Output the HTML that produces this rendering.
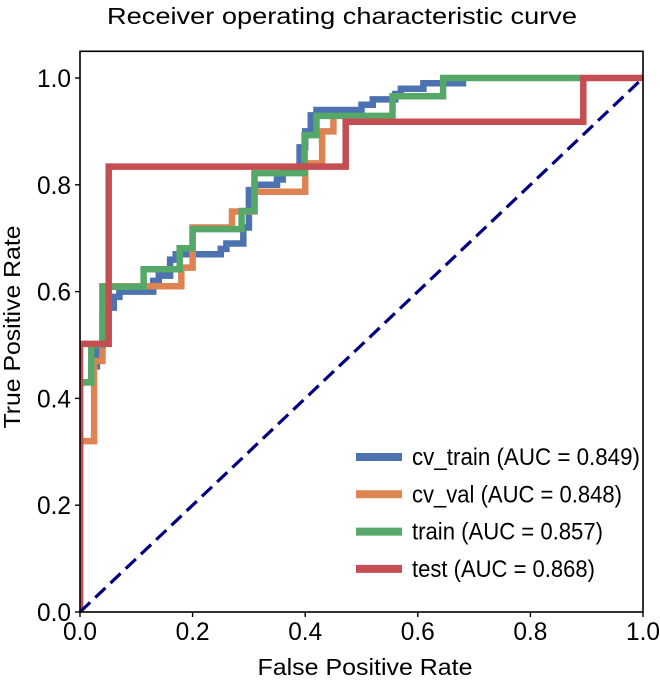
<!DOCTYPE html>
<html><head><meta charset="utf-8"><style>
html,body{margin:0;padding:0;background:#fff;}
svg text{font-family:"Liberation Sans",Arial,sans-serif;fill:#000;}
</style></head><body>
<svg id="chart" width="660" height="678" viewBox="0 0 660 678" xmlns="http://www.w3.org/2000/svg">
<text x="342" y="24" font-size="23" text-anchor="middle" textLength="470" lengthAdjust="spacingAndGlyphs">Receiver operating characteristic curve</text>
<g id="plot"></g>
<text x="365" y="675" font-size="23" text-anchor="middle" textLength="215" lengthAdjust="spacingAndGlyphs">False Positive Rate</text>
<text transform="translate(20,327) rotate(-90)" font-size="23" text-anchor="middle" textLength="203" lengthAdjust="spacingAndGlyphs">True Positive Rate</text>
</svg>
<script>
const tickValues = [0, 0.2, 0.4, 0.6, 0.8, 1.0];
const tickLabels = ["0.0", "0.2", "0.4", "0.6", "0.8", "1.0"];
const seriesNames = ["cv_train", "cv_val", "train", "test"];
const seriesLabels = ["cv_train (AUC = 0.849)", "cv_val (AUC = 0.848)", "train (AUC = 0.857)", "test (AUC = 0.868)"];
const seriesColors = ["#4c72b0", "#dd8452", "#55a868", "#c44e52"];
const cvTrainFpr = [0,0,0.02,0.02,0.03,0.03,0.04,0.04,0.05,0.05,0.06,0.06,0.07,0.07,0.13,0.13,0.14,0.14,0.16,0.16,0.17,0.17,0.19,0.19,0.25,0.25,0.26,0.26,0.29,0.29,0.30,0.30,0.31,0.31,0.35,0.35,0.36,0.36,0.39,0.39,0.40,0.40,0.41,0.41,0.42,0.42,0.44,0.44,0.50,0.50,0.52,0.52,0.56,0.56,0.57,0.57,0.61,0.61,0.62,0.62,0.686];
const cvTrainTpr = [0,0.43,0.43,0.46,0.46,0.50,0.50,0.55,0.55,0.57,0.57,0.59,0.59,0.60,0.60,0.62,0.62,0.63,0.63,0.66,0.66,0.67,0.67,0.67,0.67,0.68,0.68,0.69,0.69,0.72,0.72,0.79,0.79,0.80,0.80,0.81,0.81,0.83,0.83,0.87,0.87,0.90,0.90,0.93,0.93,0.94,0.94,0.94,0.94,0.95,0.95,0.96,0.96,0.97,0.97,0.98,0.98,0.99,0.99,0.99,0.99];
const cvValFpr = [0,0,0.025,0.025,0.04,0.04,0.11,0.11,0.18,0.18,0.20,0.20,0.27,0.27,0.29,0.29,0.31,0.31,0.40,0.40,0.43,0.43,0.45,0.45];
const cvValTpr = [0,0.32,0.32,0.47,0.47,0.61,0.61,0.61,0.61,0.645,0.645,0.72,0.72,0.75,0.75,0.75,0.75,0.787,0.787,0.84,0.84,0.90,0.90,0.93];
const trainFpr = [0,0,0.02,0.02,0.04,0.04,0.113,0.113,0.177,0.177,0.20,0.20,0.287,0.287,0.31,0.31,0.399,0.399,0.42,0.42,0.555,0.555,0.645,0.645,0.89];
const trainTpr = [0,0.43,0.43,0.50,0.50,0.609,0.609,0.642,0.642,0.681,0.681,0.717,0.717,0.751,0.751,0.822,0.822,0.893,0.893,0.929,0.929,0.966,0.966,1.0,1.0];
const testFpr = [0,0,0.051,0.051,0.472,0.472,0.894,0.894,1.0];
const testTpr = [0,0.502,0.502,0.834,0.834,0.918,0.918,1.0,1.0];
const allFpr = [cvTrainFpr, cvValFpr, trainFpr, testFpr];
const allTpr = [cvTrainTpr, cvValTpr, trainTpr, testTpr];
const legendWidths = [228, 210, 191, 183];

const X0 = 80, X1 = 643, Y0 = 612, Y1 = 78;
const xs = v => X0 + v * (X1 - X0);
const ys = v => Y0 - v * (Y0 - Y1);
const NS = "http://www.w3.org/2000/svg";
const g = document.getElementById("plot");
function mk(tag, attrs, parent) {
  const e = document.createElementNS(NS, tag);
  for (const k in attrs) e.setAttribute(k, attrs[k]);
  (parent || g).appendChild(e);
  return e;
}
const defs = mk("defs", {});
const cp = mk("clipPath", {id: "clip"}, defs);
mk("rect", {x: X0, y: ys(1.05), width: X1 - X0, height: Y0 - ys(1.05)}, cp);

const series = mk("g", {"clip-path": "url(#clip)"});


for (let s = 0; s < 4; s++) {
  const f = allFpr[s], t = allTpr[s];
  let d = "";
  for (let i = 0; i < f.length; i++) d += (i ? "L" : "M") + xs(f[i]).toFixed(1) + "," + ys(t[i]).toFixed(1);
  const p = mk("path", {d: d, fill: "none", stroke: seriesColors[s], "stroke-width": 6.5, "stroke-linejoin": "miter", "stroke-linecap": "butt"}, series);
  
  
}
const diag = mk("line", {x1: xs(0), y1: ys(0), x2: xs(1), y2: ys(1), stroke: "#000080", "stroke-width": 3.2, "stroke-dasharray": "14,7"});



const frame = mk("rect", {x: X0, y: ys(1.05), width: X1 - X0, height: Y0 - ys(1.05), fill: "none", stroke: "#000", "stroke-width": 1.6});



for (let i = 0; i < tickValues.length; i++) {
  const v = tickValues[i];
  const xt = mk("line", {x1: xs(v), y1: Y0, x2: xs(v), y2: Y0 + 5, stroke: "#000", "stroke-width": 1.4});
  
  
  const xl = mk("text", {x: xs(v), y: Y0 + 28, "font-size": 25, "text-anchor": "middle", textLength: 34, lengthAdjust: "spacingAndGlyphs"});
  xl.textContent = tickLabels[i];
  
  
  const yt = mk("line", {x1: X0 - 5, y1: ys(v), x2: X0, y2: ys(v), stroke: "#000", "stroke-width": 1.4});
  
  
  const yl = mk("text", {x: X0 - 9, y: ys(v) + 9, "font-size": 25, "text-anchor": "end", textLength: 34, lengthAdjust: "spacingAndGlyphs"});
  yl.textContent = tickLabels[i];
  
  
}

const legend = mk("g", {});


for (let s = 0; s < 4; s++) {
  const yy = 457 + s * 37.3;
  const ln = mk("line", {x1: 356, y1: yy, x2: 402, y2: yy, stroke: seriesColors[s], "stroke-width": 8}, legend);
  
  
  const tx = mk("text", {x: 412, y: yy + 8, "font-size": 24, textLength: legendWidths[s], lengthAdjust: "spacingAndGlyphs"}, legend);
  tx.textContent = seriesLabels[s];
  
  
}
</script>
</body></html>
